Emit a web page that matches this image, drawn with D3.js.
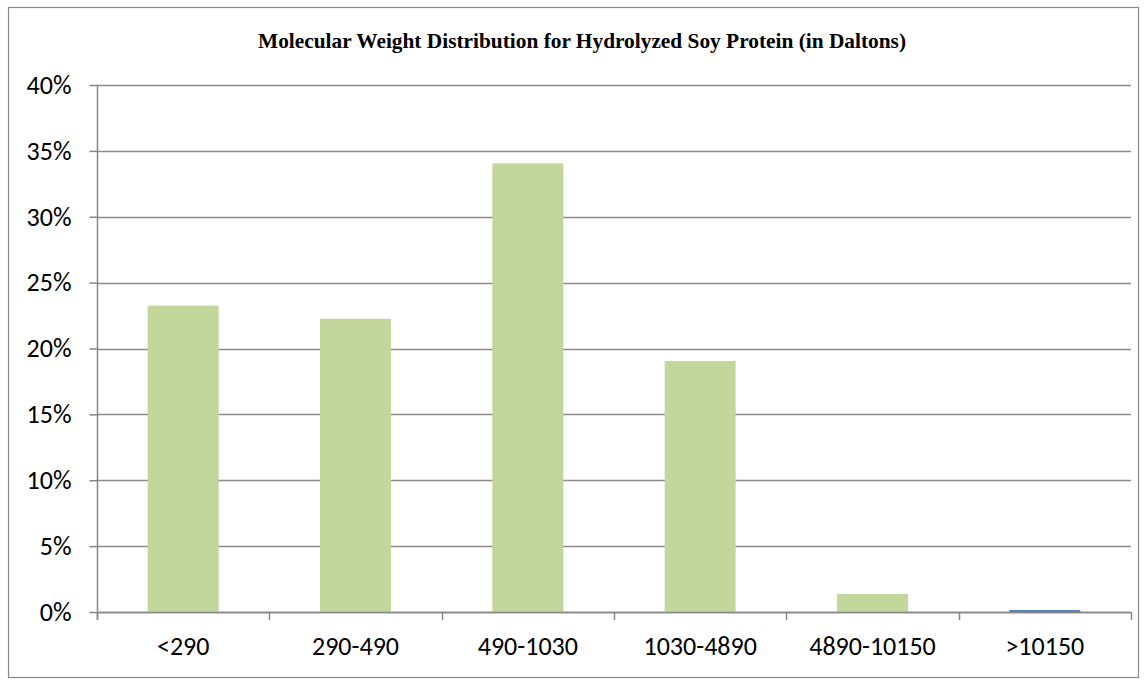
<!DOCTYPE html>
<html>
<head>
<meta charset="utf-8">
<script src="https://cdnjs.cloudflare.com/ajax/libs/d3/7.8.5/d3.min.js"></script>
<style>
  body { margin: 0; background: #fff; }
  svg { display: block; }
</style>
</head>
<body>
<div id="chart"></div>
<script>
// Data
const categories = ['<290', '290-490', '490-1030', '1030-4890', '4890-10150', '>10150'];
const shares = [23.25, 22.25, 34.05, 19.05, 1.37, 0.15];
const barColors = ['#c3d69b', '#c3d69b', '#c3d69b', '#c3d69b', '#c3d69b', '#4f81bd'];
const yTicks = [0, 5, 10, 15, 20, 25, 30, 35, 40];
const title = 'Molecular Weight Distribution for Hydrolyzed Soy Protein (in Daltons)';

const width = 1147;
const height = 681;
const margin = { top: 85, right: 16, bottom: 69, left: 97 };

const svg = d3.select('#chart')
  .append('svg')
  .attr('width', width)
  .attr('height', height);

// Outer chart frame
svg.append('rect')
  .attr('x', 8.5)
  .attr('y', 7.5)
  .attr('width', 1130)
  .attr('height', 670)
  .attr('fill', '#fff')
  .attr('stroke', '#888')
  .attr('stroke-width', 1.2);

svg.append('text')
  .attr('x', 582)
  .attr('y', 48)
  .attr('text-anchor', 'middle')
  .attr('font-family', '"Liberation Serif", "Times New Roman", serif')
  .attr('font-weight', 'bold')
  .attr('font-size', 21)
  .attr('textLength', 648)
  .attr('lengthAdjust', 'spacingAndGlyphs')
  .attr('fill', '#000')
  .text(title);

const x = d3.scaleBand()
  .domain(categories)
  .range([margin.left, width - margin.right])
  .padding(0);

const y = d3.scaleLinear()
  .domain([0, 40])
  .range([height - margin.bottom, margin.top]);

const plotLeft = margin.left;
const plotRight = width - margin.right;
const plotBottom = height - margin.bottom;

// Gridlines
svg.append('g')
  .selectAll('line')
  .data(yTicks)
  .join('line')
  .attr('x1', plotLeft)
  .attr('x2', plotRight)
  .attr('y1', d => Math.round(y(d)) + 0.5)
  .attr('y2', d => Math.round(y(d)) + 0.5)
  .attr('stroke', '#8c8c8c')
  .attr('stroke-width', 1.5);

// Bars
const barWidth = x.bandwidth() * 0.412;
svg.append('g')
  .selectAll('rect')
  .data(shares)
  .join('rect')
  .attr('x', (d, i) => x(categories[i]) + (x.bandwidth() - barWidth) / 2)
  .attr('y', d => y(d))
  .attr('width', barWidth)
  .attr('height', d => y(0) - y(d))
  .attr('fill', (d, i) => barColors[i]);

// Y axis
const yAxis = svg.append('g')
  .attr('transform', `translate(${plotLeft + 0.5},0)`)
  .call(d3.axisLeft(y).tickValues(yTicks).tickSize(8).tickPadding(18).tickFormat(d => d + '%'));

// X axis
const xAxis = svg.append('g')
  .attr('transform', `translate(0,${Math.round(plotBottom) + 0.5})`)
  .call(d3.axisBottom(x).tickSize(0).tickPadding(24));

// category boundary ticks
svg.append('g')
  .selectAll('line')
  .data(categories.concat(['end']))
  .join('line')
  .attr('x1', (d, i) => Math.round(i < categories.length ? x(d) : plotRight) + 0.5)
  .attr('x2', (d, i) => Math.round(i < categories.length ? x(d) : plotRight) + 0.5)
  .attr('y1', plotBottom)
  .attr('y2', plotBottom + 8)
  .attr('stroke', '#868686')
  .attr('stroke-width', 1.5);

[yAxis, xAxis].forEach(g => {
  g.select('.domain').attr('stroke', '#868686').attr('stroke-width', 1.5);
  g.selectAll('.tick line').attr('stroke', '#868686').attr('stroke-width', 1.5);
  g.selectAll('.tick text')
    .attr('font-family', 'Carlito, Calibri, "Open Sans", sans-serif')
    .attr('font-size', 26)
    .attr('fill', '#000');
});
xAxis.select('.domain').attr('d', `M${plotLeft},0H${plotRight}`);
yAxis.select('.domain').attr('d', `M0,${plotBottom + 8}V${margin.top}`);
</script>
</body>
</html>
